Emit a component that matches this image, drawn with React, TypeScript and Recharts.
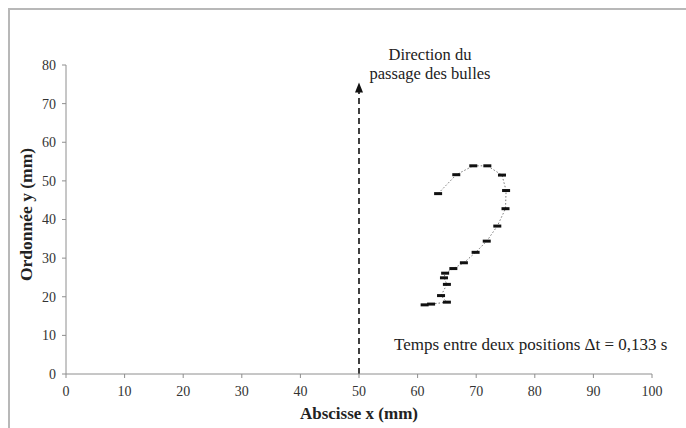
import { ScatterChart, Scatter, XAxis, YAxis, ReferenceLine, Label } from 'recharts'

// bubble positions (mm), in time order, from bottom to top
const xPositions = [61.2, 62.3, 65.0, 64.0, 65.0, 64.5, 64.7, 66.1, 67.9, 69.9, 71.8, 73.6, 75.0, 75.1, 74.4, 71.9, 69.5, 66.6, 63.5]
const yPositions = [17.9, 18.1, 18.6, 20.3, 23.2, 24.9, 26.1, 27.3, 28.8, 31.5, 34.4, 38.3, 42.8, 47.5, 51.5, 53.9, 53.9, 51.6, 46.7]

const xTicks = [0, 10, 20, 30, 40, 50, 60, 70, 80, 90, 100]
const yTicks = [0, 10, 20, 30, 40, 50, 60, 70, 80]

// direction arrow (x, y from / to)
const arrowX = 50
const arrowFrom = 0
const arrowTo = 75.5

const data = xPositions.map((x, i) => ({ x, y: yPositions[i] }))

const font = 'Liberation Serif, serif'
const axisGrey = '#8e8e8e'

const Dash = (props: any) => {
   const { cx, cy } = props
   return <rect x={cx - 4} y={cy - 1.5} width={8} height={3} fill="#111" />
}

const Arrow = (props: any) => {
   const { x1, y1, x2, y2 } = props
   return (
      <g>
         <line x1={x1} y1={y1} x2={x2} y2={y2 + 8} stroke="#111" strokeWidth={1.6} strokeDasharray="6 4" />
         <polygon points={`${x2},${y2} ${x2 - 4},${y2 + 10} ${x2 + 4},${y2 + 10}`} fill="#111" />
      </g>
   )
}

export default function App() {
   return (
      <div style={{ position: 'absolute', left: 0, top: 0, width: 686, height: 428, background: '#fff', fontFamily: font }}>
         <div style={{ position: 'absolute', left: 8, top: 8, width: 678, height: 420, borderLeft: '2px solid #b8b8b8', borderTop: '2px solid #b8b8b8' }} />
         <ScatterChart width={686} height={428} margin={{ top: 65, right: 34, bottom: 0, left: 0 }} style={{ position: 'absolute', left: 0, top: 0 }}>
            <XAxis
               type="number"
               dataKey="x"
               domain={[0, 100]}
               ticks={xTicks}
               height={54}
               stroke={axisGrey}
               tickSize={4}
               tickMargin={8}
               tick={{ fontSize: 14, fill: '#333', fontFamily: font }}
            >
               <Label value="Abscisse x (mm)" position="insideBottom" offset={9} style={{ fontSize: 17, fontWeight: 'bold', fill: '#222', fontFamily: font }} />
            </XAxis>
            <YAxis
               type="number"
               dataKey="y"
               domain={[0, 80]}
               ticks={yTicks}
               width={66}
               stroke={axisGrey}
               tickSize={4}
               tickMargin={6}
               tick={{ fontSize: 14, fill: '#333', fontFamily: font }}
            >
               <Label value="Ordonnée y (mm)" angle={-90} position="insideLeft" offset={26} dy={-5} style={{ fontSize: 17.5, fontWeight: 'bold', fill: '#222', fontFamily: font, textAnchor: 'middle' }} />
            </YAxis>
            <ReferenceLine
               segment={[{ x: arrowX, y: arrowFrom }, { x: arrowX, y: arrowTo }]}
               shape={Arrow}
               ifOverflow="visible"
            />
            <Scatter
               data={data}
               shape={Dash}
               line={{ stroke: '#777', strokeWidth: 1, strokeDasharray: '1.5 2' }}
               isAnimationActive={false}
            />
         </ScatterChart>
         <div style={{ position: 'absolute', left: 350, top: 45, width: 160, textAlign: 'center', fontSize: 16.5, lineHeight: '19px', color: '#222' }}>
            Direction du
            <br />
            passage des bulles
         </div>
         <div style={{ position: 'absolute', left: 394, top: 335, fontSize: 17, color: '#222', whiteSpace: 'nowrap' }}>
            Temps entre deux positions Δt = 0,133 s
         </div>
      </div>
   )
}
